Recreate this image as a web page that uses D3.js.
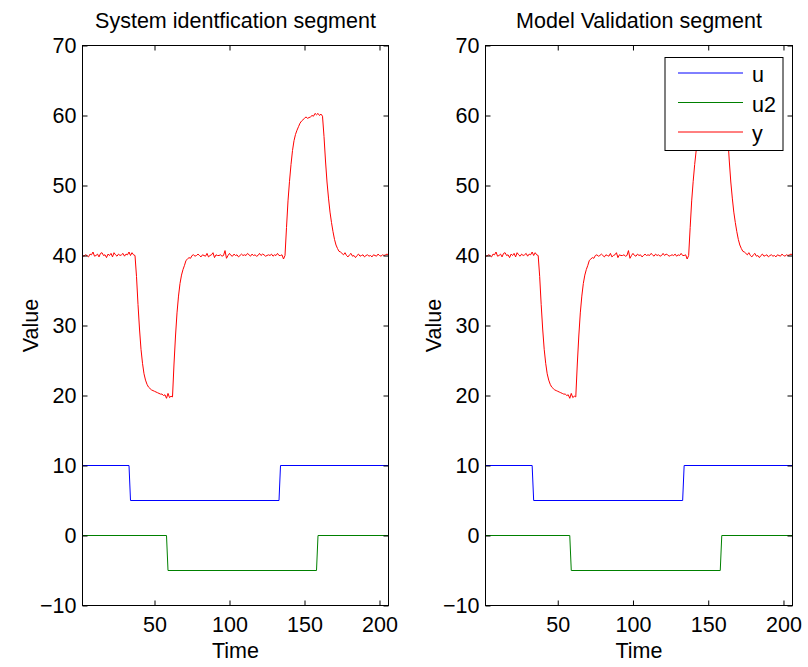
<!DOCTYPE html>
<html>
<head>
<meta charset="utf-8">
<script src="https://cdn.jsdelivr.net/npm/d3@7"></script>
<style>
  html, body { margin: 0; padding: 0; background: #fff; }
  svg { display: block; }
  text { font-family: "Liberation Sans", Arial, Helvetica, sans-serif; fill: #000; }
</style>
</head>
<body>
<svg id="chart" width="808" height="667"></svg>
<script>
// ---------------- data ----------------
const panelTitles = ["System identfication segment", "Model Validation segment"];
const xLabel = "Time";
const yLabel = "Value";
const xDomain = [2, 206];
const yDomain = [-10, 70];
const xTicks = [50, 100, 150, 200];
const yTicks = [-10, 0, 10, 20, 30, 40, 50, 60, 70];
const seriesNames = ["u", "u2", "y"];
const seriesColors = ["#0000ff", "#008000", "#ff0000"];

// input u (step signal, breakpoints)
const uTime  = [2, 33, 34, 133, 134, 206];
const uValue = [10, 10, 5, 5, 10, 10];

// input u2 (step signal, breakpoints)
const u2Time  = [2, 58, 59, 158, 159, 206];
const u2Value = [0, 0, -5, -5, 0, 0];

// output y, one sample per time step t = 2 .. 206
const yValue = [
  // t = 2..36
  40.0, 39.9, 40.1, 40.0, 39.8, 40.2, 40.1, 40.5, 39.9, 40.0,
  40.2, 39.8, 40.3, 40.4, 40.0, 40.1, 39.7, 40.2, 40.0, 40.3,
  39.8, 40.4, 40.1, 39.9, 40.2, 40.0, 40.1, 40.3, 39.9, 40.2,
  40.1, 40.5, 40.0, 40.4, 40.1,
  // t = 37..75
  40.0, 37.0, 33.0, 29.5, 26.6, 24.6, 23.1, 22.2, 21.6, 21.2,
  21.0, 20.8, 20.7, 20.6, 20.5, 20.4, 20.3, 20.2, 20.2, 20.0,
  20.1, 19.6, 20.3, 19.7, 19.9, 19.8, 24.5, 28.5, 31.8, 34.2,
  36.0, 37.2, 38.0, 38.6, 39.3, 39.5, 39.7, 39.6, 40.0,
  // t = 76..136
  40.1, 39.9, 40.0, 40.2, 40.0, 39.8, 40.1, 40.0, 39.9, 40.3,
  39.8, 40.0, 40.1, 40.4, 39.7, 40.1, 40.0, 40.0, 40.1, 39.9,
  40.0, 40.7, 39.6, 40.0, 40.3, 40.0, 39.9, 40.2, 40.0, 40.1,
  39.8, 40.0, 40.2, 40.0, 40.1, 40.0, 40.3, 40.1, 39.9, 40.2,
  40.0, 40.1, 39.9, 40.0, 40.3, 40.0, 40.2, 40.1, 39.9, 40.0,
  40.1, 40.0, 40.2, 39.9, 40.1, 40.0, 40.3, 40.0, 40.0, 40.1,
  39.5,
  // t = 137..173
  40.0, 44.0, 47.8, 50.6, 53.0, 55.0, 56.4, 57.3, 57.9, 58.4,
  58.9, 59.2, 59.4, 59.6, 59.8, 59.6, 59.7, 59.8, 60.0, 59.9,
  60.3, 60.1, 60.3, 60.0, 60.2, 59.9, 57.0, 53.5, 50.5, 48.2,
  46.2, 44.7, 43.4, 42.3, 41.5, 41.0, 40.6,
  // t = 174..206
  40.5, 40.3, 40.1, 40.4, 40.0, 39.8, 40.1, 40.3, 39.9, 40.0,
  39.7, 40.0, 40.2, 39.9, 40.0, 40.1, 39.8, 40.0, 40.1, 39.9,
  40.0, 39.8, 40.1, 40.0, 39.9, 40.2, 40.0, 39.9, 40.1, 40.0,
  40.1, 40.2, 40.1
];
const yTime = d3.range(xDomain[0], xDomain[0] + yValue.length);

// ---------------- layout ----------------
const W = 808, H = 667;
const FONT = 21.5;
const panels = [
  { left: 82.5, right: 388.5, legend: false },
  { left: 485.5, right: 792.5, legend: true }
];
const plotTop = 45.5, plotBottom = 605.5;
const TICK = 5;

const svg = d3.select("#chart");
svg.append("rect").attr("width", W).attr("height", H).attr("fill", "#fff");

const series = [
  { name: seriesNames[0], color: seriesColors[0], t: uTime,  v: uValue },
  { name: seriesNames[1], color: seriesColors[1], t: u2Time, v: u2Value },
  { name: seriesNames[2], color: seriesColors[2], t: yTime,  v: yValue }
];

panels.forEach((p, pi) => {
  const x = d3.scaleLinear().domain(xDomain).range([p.left, p.right]);
  const y = d3.scaleLinear().domain(yDomain).range([plotBottom, plotTop]);
  const g = svg.append("g");

  // data lines
  series.forEach(s => {
    const pts = s.t.map((t, i) => [t, s.v[i]]);
    g.append("path")
      .datum(pts)
      .attr("fill", "none")
      .attr("stroke", s.color)
      .attr("stroke-width", 1)
      .attr("stroke-linejoin", "round")
      .attr("d", d3.line().x(d => x(d[0])).y(d => y(d[1])));
  });

  // axes (ticks inward on all four sides)
  const axB = g.append("g").attr("transform", `translate(0,${plotBottom})`)
    .call(d3.axisBottom(x).tickValues(xTicks).tickSize(-TICK).tickPadding(11).tickFormat(d3.format("d")));
  const axT = g.append("g").attr("transform", `translate(0,${plotTop})`)
    .call(d3.axisTop(x).tickValues(xTicks).tickSize(-TICK).tickFormat(""));
  const axL = g.append("g").attr("transform", `translate(${p.left},0)`)
    .call(d3.axisLeft(y).tickValues(yTicks).tickSize(-TICK).tickPadding(6)
      .tickFormat(d => d < 0 ? "\u2212" + Math.abs(d) : String(d)));
  const axR = g.append("g").attr("transform", `translate(${p.right},0)`)
    .call(d3.axisRight(y).tickValues(yTicks).tickSize(-TICK).tickFormat(""));

  [axB, axT, axL, axR].forEach(a => {
    a.select(".domain").remove();
    a.selectAll(".tick line").attr("stroke", "#000").attr("stroke-width", 1);
    a.selectAll("text").attr("font-size", FONT).attr("fill", "#000")
      .attr("font-family", "'Liberation Sans', Arial, Helvetica, sans-serif");
  });

  // box
  g.append("rect")
    .attr("x", p.left).attr("y", plotTop)
    .attr("width", p.right - p.left).attr("height", plotBottom - plotTop)
    .attr("fill", "none").attr("stroke", "#000").attr("stroke-width", 1);

  // title
  g.append("text")
    .attr("x", (p.left + p.right) / 2).attr("y", 28)
    .attr("text-anchor", "middle").attr("font-size", FONT)
    .text(panelTitles[pi]);

  // x label
  g.append("text")
    .attr("x", (p.left + p.right) / 2).attr("y", 658)
    .attr("text-anchor", "middle").attr("font-size", FONT)
    .text(xLabel);

  // y label
  g.append("text")
    .attr("transform", `translate(${p.left - 45},${(plotTop + plotBottom) / 2}) rotate(-90)`)
    .attr("text-anchor", "middle").attr("font-size", FONT)
    .text(yLabel);

  // legend
  if (p.legend) {
    const lx = p.right - 127.5, ly = 57.5, lw = 118, lh = 93;
    const lg = g.append("g");
    lg.append("rect").attr("x", lx).attr("y", ly).attr("width", lw).attr("height", lh)
      .attr("fill", "#fff").attr("stroke", "#000").attr("stroke-width", 1);
    series.forEach((s, i) => {
      const yy = ly + 15.5 + i * 29.5;
      lg.append("line").attr("x1", lx + 13).attr("x2", lx + 78)
        .attr("y1", yy).attr("y2", yy)
        .attr("stroke", s.color).attr("stroke-width", 1);
      lg.append("text").attr("x", lx + 87).attr("y", yy).attr("dy", "0.44em")
        .attr("font-size", FONT).text(s.name);
    });
  }
});
</script>
</body>
</html>
